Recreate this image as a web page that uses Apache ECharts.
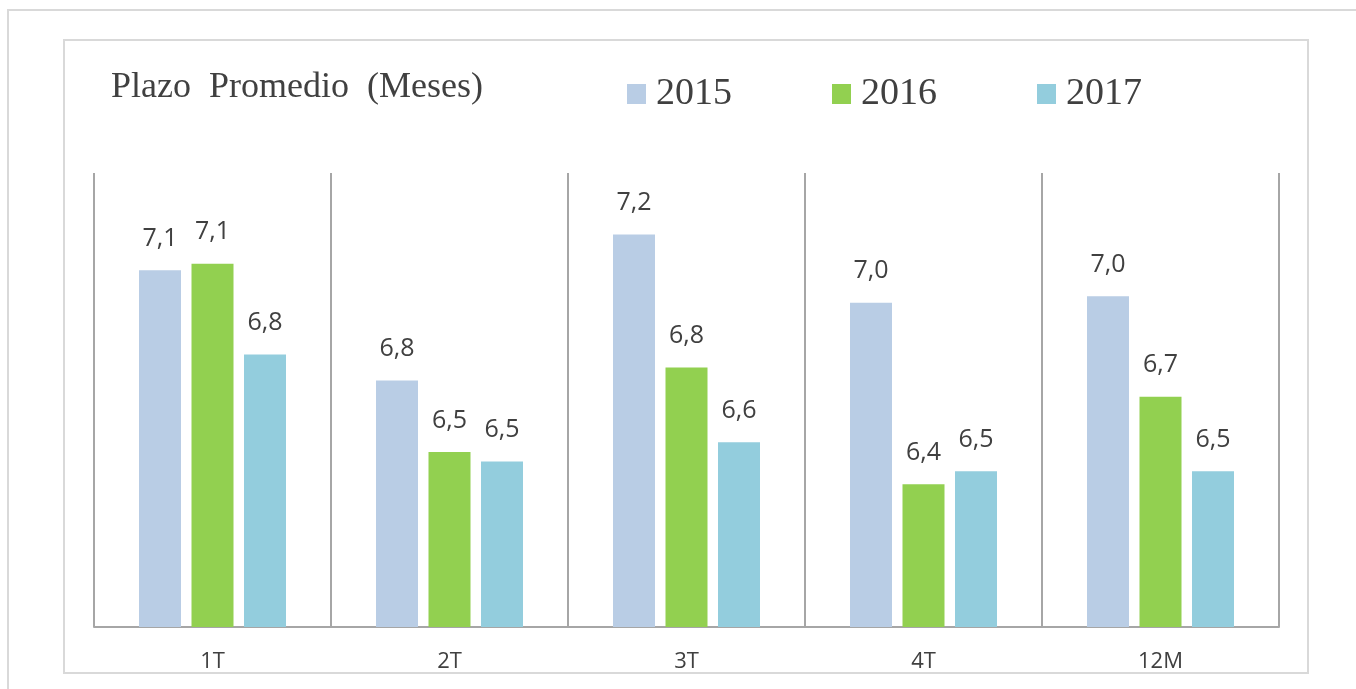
<!DOCTYPE html>
<html>
<head>
<meta charset="utf-8">
<script src="https://cdn.jsdelivr.net/npm/echarts@6/dist/echarts.min.js"></script>
<style>
  html, body { margin: 0; padding: 0; background: #fff; }
  #chart { width: 1356px; height: 689px; }
</style>
</head>
<body>
<div id="chart"></div>
<script>
// Data
const categories = ['1T', '2T', '3T', '4T', '12M']
const seriesNames = ['2015', '2016', '2017']
const values2015 = [7.10, 6.76, 7.21, 7.00, 7.02]
const values2016 = [7.12, 6.54, 6.80, 6.44, 6.71]
const values2017 = [6.84, 6.51, 6.57, 6.48, 6.48]
const colors = ['#b9cde5', '#92d050', '#93cddd']

const chart = echarts.init(document.getElementById('chart'))

// Comma as decimal mark
function fmt(p) {
  return p.value.toFixed(1).replace('.', ',')
}

function makeSeries(name, data, color) {
  return {
    name: name,
    type: 'bar',
    data: data,
    barWidth: 42,
    barGap: '25%',
    itemStyle: { color: color },
    label: {
      show: true,
      position: 'top',
      distance: 19,
      formatter: fmt,
      fontFamily: '"Open Sans", sans-serif',
      fontSize: 25,
      color: '#404040'
    }
  }
}

const option = {
  animation: false,
  backgroundColor: '#fff',
  title: {
    text: 'Plazo  Promedio  (Meses)',
    left: 106,
    top: 65,
    textStyle: {
      fontFamily: '"Liberation Serif", serif',
      fontWeight: 'normal',
      fontSize: 36,
      color: '#404040'
    }
  },
  legend: {
    data: seriesNames,
    left: 622,
    top: 70,
    icon: 'rect',
    itemWidth: 19,
    itemHeight: 20,
    itemGap: 100,
    textStyle: {
      fontFamily: '"Liberation Serif", serif',
      fontSize: 38,
      color: '#404040',
      padding: [0, 0, 0, 5]
    }
  },
  graphic: [
    {
      type: 'rect',
      shape: { x: 8, y: 10, width: 1400, height: 800 },
      style: { fill: 'none', stroke: '#d9d9d9', lineWidth: 2 },
      silent: true
    },
    {
      type: 'rect',
      shape: { x: 64, y: 40, width: 1244, height: 633 },
      style: { fill: 'none', stroke: '#d9d9d9', lineWidth: 2 },
      silent: true
    }
  ],
  grid: {
    left: 94,
    right: 77,
    top: 173,
    bottom: 62
  },
  xAxis: {
    type: 'category',
    data: categories,
    axisLine: { lineStyle: { color: '#a6a6a6', width: 2 } },
    axisTick: { show: false },
    splitLine: { show: true, lineStyle: { color: '#a6a6a6', width: 2 } },
    axisLabel: {
      margin: 24,
      fontFamily: '"Open Sans", sans-serif',
      fontSize: 22,
      color: '#404040'
    }
  },
  yAxis: {
    type: 'value',
    min: 6,
    max: 7.4,
    show: false,
    splitLine: { show: false }
  },
  series: [
    makeSeries(seriesNames[0], values2015, colors[0]),
    makeSeries(seriesNames[1], values2016, colors[1]),
    makeSeries(seriesNames[2], values2017, colors[2])
  ]
}

chart.setOption(option)
</script>
</body>
</html>
